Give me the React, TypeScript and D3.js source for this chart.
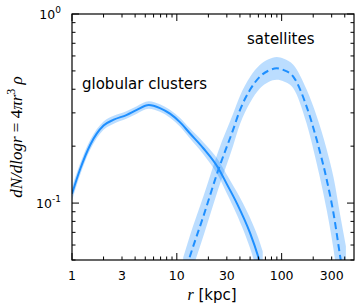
import * as React from "react";
import * as d3 from "d3";

// globular clusters (solid line), radius in kpc
const gcR = [1, 1.19, 1.49, 2.0, 2.5, 3.3, 4.15, 5.4, 6.9, 8.6, 10.7, 13.3, 17.9, 24.9, 30, 37.3, 49.9, 59.8, 66];
const gcVal = [0.112, 0.15, 0.203, 0.257, 0.276, 0.292, 0.311, 0.33, 0.318, 0.297, 0.268, 0.234, 0.195, 0.153, 0.126, 0.1, 0.0695, 0.052, 0.043];
// half width of the band in dex
const gcErr = [0.035, 0.03, 0.026, 0.022, 0.021, 0.02, 0.02, 0.02, 0.02, 0.021, 0.023, 0.026, 0.032, 0.042, 0.05, 0.06, 0.08, 0.1, 0.11];

// satellites (dashed line)
const satR = [11.5, 13.3, 17.9, 24.9, 34.4, 40.1, 49.9, 62.2, 75, 89.8, 105, 129, 173, 216, 269, 312, 362, 410];
const satVal = [0.04, 0.052, 0.085, 0.15, 0.244, 0.311, 0.397, 0.467, 0.502, 0.516, 0.505, 0.467, 0.324, 0.216, 0.133, 0.0886, 0.052, 0.034];
const satErr = [0.11, 0.11, 0.105, 0.1, 0.085, 0.075, 0.068, 0.062, 0.06, 0.06, 0.06, 0.062, 0.09, 0.125, 0.16, 0.19, 0.22, 0.24];

const xMajor = [1, 10, 100];
const xMinor = [2, 3, 4, 5, 6, 7, 8, 9, 20, 30, 40, 50, 60, 70, 80, 90, 200, 300, 400];
const xLabels = [1, 3, 10, 30, 100, 300];
const yMajor = [0.1, 1];
const yMinor = [0.05, 0.06, 0.07, 0.08, 0.09, 0.2, 0.3, 0.4, 0.5, 0.6, 0.7, 0.8, 0.9];
const yLabels = [
  { v: 1, exp: "0" },
  { v: 0.1, exp: "-1" },
];

const W = 355, H = 306;
const margin = { top: 14, right: 1, bottom: 46, left: 72 };
const blue = "#1e8fff";
const sans = "DejaVu Sans, sans-serif";
const serif = "Liberation Serif, DejaVu Serif, serif";

export default function App() {
  const x = d3.scaleLog().domain([1, 490]).range([margin.left, W - margin.right]);
  const y = d3.scaleLog().domain([0.05, 1]).range([H - margin.bottom, margin.top]);
  const x0 = margin.left, x1 = W - margin.right, y0 = margin.top, y1 = H - margin.bottom;

  const line = (rs: number[], vs: number[]) =>
    d3.line<number>().x((d, i) => x(rs[i])).y(d => y(d)).curve(d3.curveMonotoneX)(vs) || "";
  const band = (rs: number[], vs: number[], es: number[]) =>
    d3.area<number>()
      .x((d, i) => x(rs[i]))
      .y0((d, i) => y(d * Math.pow(10, -es[i])))
      .y1((d, i) => y(d * Math.pow(10, es[i])))
      .curve(d3.curveMonotoneX)(vs) || "";

  const majLen = 7, minLen = 3.5;

  return (
    <svg width={W} height={H} style={{ display: "block" }}>
      <style>{"body{margin:0}"}</style>
      <defs>
        <clipPath id="plot">
          <rect x={x0} y={y0} width={x1 - x0} height={y1 - y0} />
        </clipPath>
      </defs>
      <g clipPath="url(#plot)">
        <path d={band(gcR, gcVal, gcErr)} fill={blue} opacity={0.3} />
        <path d={band(satR, satVal, satErr)} fill={blue} opacity={0.3} />
        <path d={line(gcR, gcVal)} fill="none" stroke={blue} strokeWidth={2} />
        <path d={line(satR, satVal)} fill="none" stroke={blue} strokeWidth={2} strokeDasharray="7,4" />
      </g>

      {/* ticks */}
      <g stroke="#000" strokeWidth={1}>
        {xMajor.map(t => (
          <g key={"xM" + t}>
            <line x1={x(t)} x2={x(t)} y1={y1} y2={y1 - majLen} />
            <line x1={x(t)} x2={x(t)} y1={y0} y2={y0 + majLen} />
          </g>
        ))}
        {xMinor.map(t => (
          <g key={"xm" + t}>
            <line x1={x(t)} x2={x(t)} y1={y1} y2={y1 - minLen} />
            <line x1={x(t)} x2={x(t)} y1={y0} y2={y0 + minLen} />
          </g>
        ))}
        {yMajor.map(t => (
          <g key={"yM" + t}>
            <line x1={x0} x2={x0 + majLen} y1={y(t)} y2={y(t)} />
            <line x1={x1} x2={x1 - majLen} y1={y(t)} y2={y(t)} />
          </g>
        ))}
        {yMinor.map(t => (
          <g key={"ym" + t}>
            <line x1={x0} x2={x0 + minLen} y1={y(t)} y2={y(t)} />
            <line x1={x1} x2={x1 - minLen} y1={y(t)} y2={y(t)} />
          </g>
        ))}
      </g>
      <rect x={x0} y={y0} width={x1 - x0} height={y1 - y0} fill="none" stroke="#000" strokeWidth={1.2} />

      {/* tick labels */}
      <g fontFamily={sans} fontSize={12.5} fill="#000">
        {xLabels.map(t => (
          <text key={"xl" + t} x={x(t)} y={y1 + 20} textAnchor="middle">{t}</text>
        ))}
        {yLabels.map(t => (
          <text key={"yl" + t.v} x={x0 - 11} y={y(t.v) + 5} textAnchor="end">
            10<tspan fontSize={9} dy={-6}>{t.exp}</tspan>
          </text>
        ))}
      </g>

      {/* annotations */}
      <text x={82} y={89} fontFamily={sans} fontSize={15}>globular clusters</text>
      <text x={247} y={44} fontFamily={sans} fontSize={15}>satellites</text>

      {/* axis labels */}
      <text x={212} y={300} textAnchor="middle" fontSize={16}>
        <tspan fontFamily={serif} fontStyle="italic">r</tspan>
        <tspan fontFamily={sans} fontSize={15}> [kpc]</tspan>
      </text>
      <text transform={`translate(22,${(y0 + y1) / 2}) rotate(-90)`} textAnchor="middle" fontFamily={serif} fontSize={17}>
        <tspan fontStyle="italic">dN/dlogr</tspan>
        <tspan> = 4</tspan>
        <tspan fontStyle="italic">πr</tspan>
        <tspan fontSize={12} dy={-7}>3</tspan>
        <tspan fontStyle="italic" dy={7}> ρ</tspan>
      </text>
    </svg>
  );
}
